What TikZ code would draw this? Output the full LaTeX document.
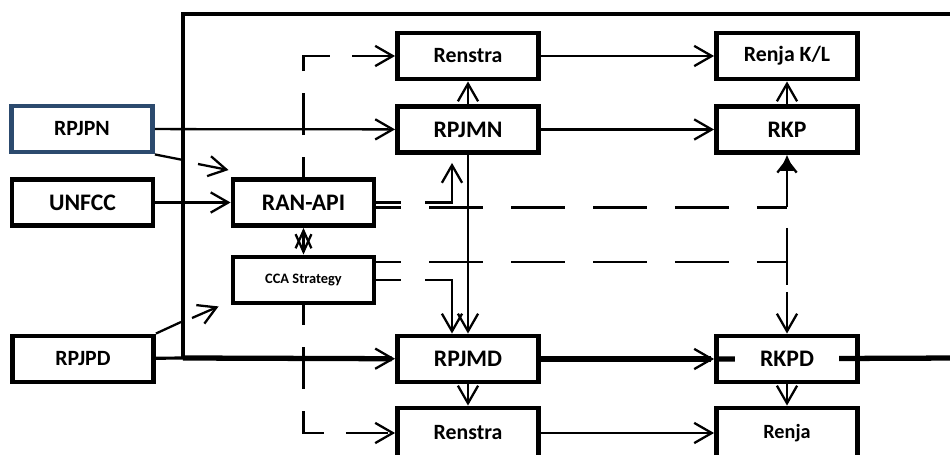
\documentclass[tikz,border=0pt]{standalone}
\usepackage{fontspec}
\setmainfont{Carlito}
\usepackage{xcolor}
\usepackage{tikz}
\usetikzlibrary{positioning,calc,arrows.meta}
\definecolor{natc}{HTML}{2C4A6E}

\begin{document}
\begin{tikzpicture}[x=0.02cm, y=-0.02cm, font=\bfseries,
    >={Straight Barb[length=10pt,width=11.5pt,line width=1.3pt]},
    box/.style={draw, line width=2.8pt, fill=white, minimum width=2.82cm, minimum height=0.92cm, inner sep=0pt},
    lowbox/.style={box, minimum height=1.0cm},
    big/.style={font=\fontsize{13.5}{15}\selectfont\bfseries},
    mid/.style={font=\fontsize{12.4}{14}\selectfont\bfseries},
    small/.style={font=\fontsize{8.2}{10}\selectfont\bfseries},
    conn/.style={line width=1.3pt},
    heavy/.style={line width=3pt},
    frame/.style={line width=2.6pt},
    longdash/.style={conn, dash pattern=on 30.7pt off 15.9pt, dash phase=16.5pt},
    gapdash/.style={conn, dash pattern=on 13.7pt off 14.2pt on 200pt off 1pt},
    middash/.style={conn, dash pattern=on 23.9pt off 12.5pt, dash phase=12.5pt},
    vdash/.style={conn, dash pattern=on 32.4pt off 4pt}]
  \useasboundingbox (0,0) rectangle (950,455);
  \coordinate (ftop) at (960,14);
  \coordinate (redge) at (960,358);
  \draw[frame] (ftop) -| (183,358) coordinate (fcorner);

  \node[box, draw=natc, mid] (rpjpn) at (82,129) {RPJPN};
  \node[box, big] (unfcc) at (82.5,202.5) {UNFCC};
  \node[box, mid] (rpjpd) at (83,359) {RPJPD};
  \node[box, big] (ranapi) at (303.5,202.5) {RAN-API};
  \node[box, small] (cca) at (303.5,280) {CCA Strategy};
  \node[box, mid] (renstraN) at (468,56) {Renstra};
  \node[box, big] (rpjmn) at (468,129.5) {RPJMN};
  \node[box, mid] (renjaKL) at (787,56) {Renja K/L};
  \node[box, big] (rkp) at (787,129.5) {RKP};
  \node[box, big] (rpjmd) at (468,359) {RPJMD};
  \node[box, fill=none] (rkpd) at (787,359) {};
  \node[lowbox, mid] (renstraD) at (468,433) {Renstra};
  \node[lowbox, font=\fontsize{11.5}{13}\selectfont\bfseries] (renjaD) at (787,433) {Renja};

  \foreach \a/\b in {renstraN/renjaKL, rpjmn/renstraN, rpjpn/rpjmn, rpjmn/rkp, rkp/renjaKL,
                     unfcc/ranapi, rpjmn/rpjmd, rpjmd/renstraD, rkpd/renjaD, renstraD/renjaD}
     \draw[conn,->] (\a) -- (\b);
  \draw[conn,{Straight Barb[length=10pt,width=9pt]}-{Straight Barb[length=10pt,width=9pt]}] (ranapi) -- (cca);

  \coordinate (nbrkA) at (183,160);
  \coordinate (nbrkB) at (198,164);
  \draw[conn] (rpjpn.south east) -- (nbrkA);
  \draw[conn,->] (nbrkB) -- ($(ranapi.north west)+(-2,-7)$);
  \coordinate (dbrkA) at (181,322);
  \coordinate (dbrkB) at (192,318);
  \draw[conn] (rpjpd.north east) -- (dbrkA);
  \draw[conn,->] (dbrkB) -- ($(cca.south west)+(-12,1)$);

  \draw[line width=1.8pt] (rpjpd) -- (fcorner);
  \draw[heavy,->] (fcorner) -- (rpjmd);
  \draw[heavy,->] (rpjmd) -- (rkpd);
  \draw[heavy] (rkpd.west) -- (redge);

  \draw[middash,->] (ranapi.north) |- (renstraN);
  \draw[middash,->] (cca.south) |- (renstraD);

  \draw[gapdash,->] (ranapi.east) -| ($(rpjmn.south)+(-16,8)$);
  \coordinate (ranturn) at (787,207.5);
  \draw[longdash] ($(ranapi.east)+(0,5)$) -- (ranturn);
  \draw[conn,-{Straight Barb[length=7pt,width=11pt,sep=-7pt]Triangle[length=9pt,width=7.5pt]}] (ranturn) -- (rkp);

  \coordinate (ccaturn) at (787,262);
  \coordinate (rkpdstub) at (787,228);
  \draw[longdash] ($(cca.east)+(0,-18)$) -- (ccaturn);
  \draw[vdash,->] (rkpdstub) -- (rkpd);
  \draw[gapdash,->] (cca.east) -| ($(rpjmd.north)+(-16,0)$);

  \node[big, fill=white, minimum width=2.1cm, inner sep=1pt] (rkpdlabel) at (rkpd) {RKPD};
\end{tikzpicture}
\end{document}
